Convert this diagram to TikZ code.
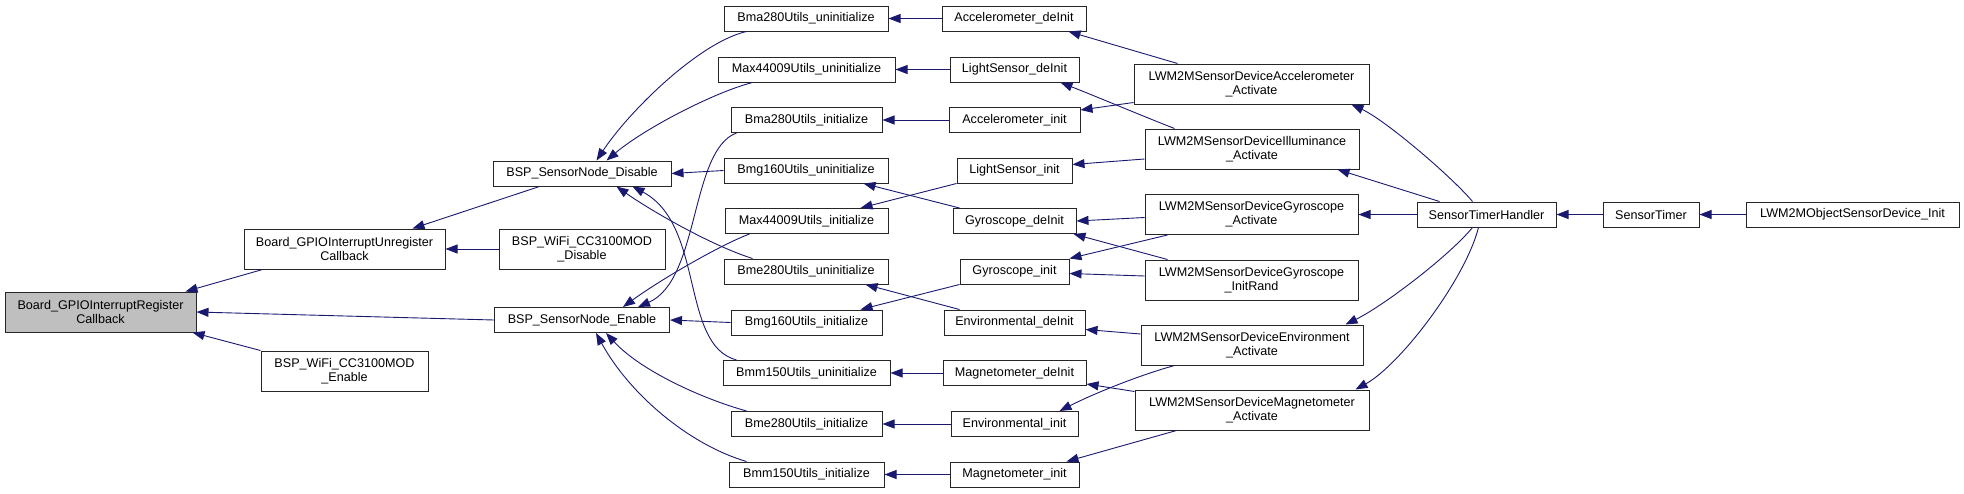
\documentclass[tikz,border=0pt]{standalone}
\usepackage{fontspec}
\setmainfont{Liberation Sans}
\usetikzlibrary{arrows.meta,calc}
\definecolor{mblue}{HTML}{191970}
\definecolor{hilite}{HTML}{BFBFBF}
\newcommand\fnfont{\fontsize{12.6}{14.3}\selectfont}
\tikzset{
  fn/.style={draw=black!85, line width=1pt, fill=white, inner sep=0pt, align=center, font=\fnfont},
  call/.style={draw=mblue, line width=0.9pt, -{Triangle[length=12pt,width=9pt]}}
}
\begin{document}
\begin{tikzpicture}[x=1pt,y=-1pt]
\useasboundingbox (0,0) rectangle (1964,493);
% column 0
\node[fn, fill=hilite, minimum width=191, minimum height=40] (reg) at (100.5,312) {Board\_GPIOInterruptRegister\\Callback};
% column 1
\node[fn, minimum width=201, minimum height=40] (unreg) at (344.5,249) {Board\_GPIOInterruptUnregister\\Callback};
\node[fn, minimum width=167, minimum height=40] (wifien) at (344.5,371) {BSP\_WiFi\_CC3100MOD\\\_Enable};
% column 2
\node[fn, minimum width=178, minimum height=25] (disable) at (582,173.5) {BSP\_SensorNode\_Disable};
\node[fn, minimum width=166, minimum height=40] (wifidis) at (582,249) {BSP\_WiFi\_CC3100MOD\\\_Disable};
\node[fn, minimum width=175, minimum height=25] (enable) at (582,320) {BSP\_SensorNode\_Enable};
% column 3
\node[fn, minimum width=164, minimum height=25] (bmaun) at (806,18.5) {Bma280Utils\_uninitialize};
\node[fn, minimum width=177, minimum height=25] (maxun) at (806.5,69.5) {Max44009Utils\_uninitialize};
\node[fn, minimum width=151, minimum height=25] (bmain) at (806.5,120) {Bma280Utils\_initialize};
\node[fn, minimum width=164, minimum height=25] (bmgun) at (806,170.5) {Bmg160Utils\_uninitialize};
\node[fn, minimum width=163, minimum height=25] (maxin) at (806.5,221) {Max44009Utils\_initialize};
\node[fn, minimum width=164, minimum height=25] (bmeun) at (806,271.5) {Bme280Utils\_uninitialize};
\node[fn, minimum width=151, minimum height=25] (bmgin) at (806.5,322.5) {Bmg160Utils\_initialize};
\node[fn, minimum width=167, minimum height=25] (bmmun) at (806.5,373) {Bmm150Utils\_uninitialize};
\node[fn, minimum width=151, minimum height=25] (bmein) at (806.5,424) {Bme280Utils\_initialize};
\node[fn, minimum width=155, minimum height=25] (bmmin) at (806.5,474.5) {Bmm150Utils\_initialize};
% column 4
\node[fn, minimum width=144, minimum height=25] (accde) at (1014,18.5) {Accelerometer\_deInit};
\node[fn, minimum width=129, minimum height=25] (lsde) at (1014.5,69.5) {LightSensor\_deInit};
\node[fn, minimum width=131, minimum height=25] (accin) at (1014.5,120) {Accelerometer\_init};
\node[fn, minimum width=115, minimum height=25] (lsin) at (1014.5,170.5) {LightSensor\_init};
\node[fn, minimum width=123, minimum height=25] (gyde) at (1014.5,221) {Gyroscope\_deInit};
\node[fn, minimum width=109, minimum height=25] (gyin) at (1014.5,271.5) {Gyroscope\_init};
\node[fn, minimum width=141, minimum height=25] (envde) at (1014.5,322.5) {Environmental\_deInit};
\node[fn, minimum width=143, minimum height=25] (magde) at (1014.5,373) {Magnetometer\_deInit};
\node[fn, minimum width=127, minimum height=25] (envin) at (1014.5,424) {Environmental\_init};
\node[fn, minimum width=129, minimum height=25] (magin) at (1014.5,474.5) {Magnetometer\_init};
% column 5
\node[fn, minimum width=235, minimum height=40] (aact) at (1251.5,84) {LWM2MSensorDeviceAccelerometer\\\_Activate};
\node[fn, minimum width=214, minimum height=40] (iact) at (1252,149) {LWM2MSensorDeviceIlluminance\\\_Activate};
\node[fn, minimum width=213, minimum height=40] (gact) at (1251.5,214.5) {LWM2MSensorDeviceGyroscope\\\_Activate};
\node[fn, minimum width=213, minimum height=40] (grand) at (1251.5,280) {LWM2MSensorDeviceGyroscope\\\_InitRand};
\node[fn, minimum width=222, minimum height=40] (eact) at (1252,345) {LWM2MSensorDeviceEnvironment\\\_Activate};
\node[fn, minimum width=234, minimum height=40] (mact) at (1252,410) {LWM2MSensorDeviceMagnetometer\\\_Activate};
% columns 6-8
\node[fn, minimum width=139, minimum height=25] (handler) at (1486.5,214.5) {SensorTimerHandler};
\node[fn, minimum width=96, minimum height=25] (timer) at (1651,214.5) {SensorTimer};
\node[fn, minimum width=213, minimum height=25] (init) at (1852.5,214.5) {LWM2MObjectSensorDevice\_Init};

% edges into column 0
\draw[call] ($(unreg.south west)+(19,0)$) -- ($(reg.north east)+(-11,0)$);
\draw[call] (enable.west) -- (reg.east);
\draw[call] (wifien.north west) -- ($(reg.south east)+(-4,0)$);
% edges into column 1
\draw[call] ($(disable.south west)+(47,0)$) -- ($(unreg.north east)+(-33,0)$);
\draw[call] (wifidis.west) -- (unreg.east);
% edges into column 2
\draw[call] ($(bmaun.south west)+(23,0)$) .. controls (700,42) and (630,110) .. ($(disable.north west)+(104,0)$);
\draw[call] ($(maxun.south west)+(35,0)$) .. controls (715,92) and (645,128) .. ($(disable.north west)+(114,0)$);
\draw[call] (bmgun.west) -- (disable.east);
\draw[call] ($(bmeun.north west)+(29,0)$) .. controls (710,245) and (650,210) .. ($(disable.south west)+(124,0)$);
\draw[call] ($(bmmun.north west)+(14,0)$) .. controls (680,345) and (705,225) .. ($(disable.south west)+(140,0)$);
\draw[call] ($(bmain.south west)+(6,0)$) .. controls (690,150) and (700,280) .. ($(enable.north west)+(144,0)$);
\draw[call] ($(maxin.south west)+(25,0)$) .. controls (720,245) and (660,280) .. ($(enable.north west)+(129,0)$);
\draw[call] (bmgin.west) -- (enable.east);
\draw[call] ($(bmein.north west)+(16,0)$) .. controls (700,398) and (640,370) .. ($(enable.south west)+(112,0)$);
\draw[call] ($(bmmin.north west)+(18,0)$) .. controls (690,445) and (630,395) .. ($(enable.south west)+(102,0)$);
% edges into column 3
\draw[call] (accde.west) -- (bmaun.east);
\draw[call] (lsde.west) -- (maxun.east);
\draw[call] (accin.west) -- (bmain.east);
\draw[call] (lsin.south west) -- ($(maxin.north east)+(-28,0)$);
\draw[call] ($(gyde.north west)+(7,0)$) -- ($(bmgun.south east)+(-25,0)$);
\draw[call] (gyin.south west) -- ($(bmgin.north east)+(-22,0)$);
\draw[call] ($(envde.north west)+(16,0)$) -- ($(bmeun.south east)+(-23,0)$);
\draw[call] (magde.west) -- (bmmun.east);
\draw[call] (envin.west) -- (bmein.east);
\draw[call] (magin.west) -- (bmmin.east);
% edges into column 4
\draw[call] ($(aact.north west)+(44,0)$) -- ($(accde.south east)+(-18,0)$);
\draw[call] ($(aact.south west)+(0,-2)$) -- ($(accin.north east)+(0,3)$);
\draw[call] ($(iact.north west)+(30,0)$) .. controls (1140,115) and (1095,96) .. ($(lsde.south east)+(-19,0)$);
\draw[call] ($(iact.west)+(0,10)$) -- ($(lsin.east)+(0,-6)$);
\draw[call] ($(gact.west)+(0,3)$) -- (gyde.east);
\draw[call] ($(gact.south west)+(23,0)$) -- (gyin.north east);
\draw[call] ($(grand.north west)+(23,0)$) -- ($(gyde.south east)+(-3,0)$);
\draw[call] ($(grand.west)+(0,-4)$) -- ($(gyin.east)+(0,2)$);
\draw[call] ($(eact.west)+(0,-11)$) -- ($(envde.east)+(0,7)$);
\draw[call] ($(eact.south west)+(34,0)$) .. controls (1140,375) and (1095,393) .. ($(envin.north west)+(109,0)$);
\draw[call] ($(mact.north west)+(0,2)$) -- ($(magde.south east)+(0,-2)$);
\draw[call] ($(mact.south west)+(42,0)$) -- ($(magin.north west)+(117,0)$);
% edges into column 5
\draw[call] ($(handler.north west)+(56,0)$) .. controls (1450,175) and (1385,120) .. ($(aact.south east)+(-18,0)$);
\draw[call] ($(handler.north west)+(23,0)$) -- ($(iact.south east)+(-22,0)$);
\draw[call] (handler.west) -- (gact.east);
\draw[call] ($(handler.south west)+(56,0)$) .. controls (1450,255) and (1385,305) .. ($(eact.north east)+(-18,0)$);
\draw[call] ($(handler.south west)+(62,0)$) .. controls (1465,280) and (1400,365) .. ($(mact.north east)+(-14,0)$);
% right chain
\draw[call] (timer.west) -- (handler.east);
\draw[call] (init.west) -- (timer.east);
\end{tikzpicture}
\end{document}
